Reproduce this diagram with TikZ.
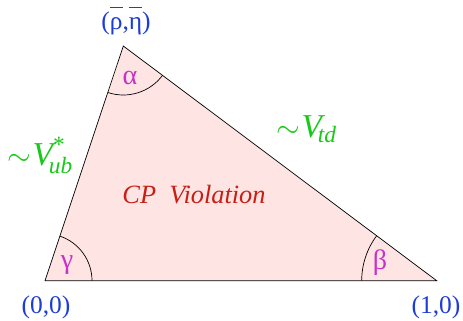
\documentclass[tikz,border=0pt]{standalone}
\usepackage{amsmath}
\usepackage{fontspec}
\setmainfont{Liberation Serif}
\usepackage{xcolor}
\usepackage{tikz}
\usetikzlibrary{angles,calc}
\definecolor{triFill}{RGB}{255,228,228}
\definecolor{ptBlue}{RGB}{30,60,215}
\definecolor{ckmGreen}{RGB}{25,200,25}
\definecolor{angMag}{RGB}{200,50,200}
\definecolor{cpRed}{RGB}{200,30,20}
\newcommand{\wbar}[1]{$\overline{\vphantom{(}\textrm{#1}}$}
\newcommand{\approxto}{{\fontsize{17}{17}\selectfont$\sim$}}
\tikzset{
  vert/.style={text=ptBlue, font=\fontsize{14.5}{16}\selectfont, inner sep=0pt},
  side/.style={text=ckmGreen, font=\fontsize{19}{22}\selectfont, inner sep=0pt, anchor=base west},
  ang/.style={text=angMag, font=\fontsize{16}{18}\selectfont, inner sep=0pt},
  arcline/.style={draw, thin, black}
}

\begin{document}
\begin{tikzpicture}[x=1cm,y=1cm]
  \useasboundingbox (0,0) rectangle (9.26,6.4);
  % corners of the unitarity triangle
  \coordinate (orig) at (0.9,0.786);
  \coordinate (unit) at (8.734,0.786);
  \coordinate (apex) at (2.466,5.48);
  \filldraw[fill=triFill, draw=black, thin] (orig) -- (unit) -- (apex) -- cycle;
  % angles
  \pic[arcline, angle radius=0.94cm] {angle=unit--orig--apex};
  \pic[arcline, angle radius=0.98cm] {angle=orig--apex--unit};
  \pic[arcline, angle radius=1.5cm] {angle=apex--unit--orig};
  \node[ang] (gam) at (1.34,1.1) {γ};
  \node[ang] (alp) at (2.6,4.84) {α};
  \node[ang] (bet) at (7.6,1.14) {β};
  % vertex labels
  \node[vert] (lorig) at (0.92,0.26) {(0,0)};
  \node[vert] (lunit) at (8.72,0.26) {(1,0)};
  \node[vert] (lapex) at (2.52,5.98) {(\wbar{ρ},\wbar{η})};
  % sides
  \node[side] (vub) at (0.14,3.1) {\approxto$\mkern1mu\textit{V}_{\mkern-3mu\textit{ub}}^{\textrm{*}}$};
  \node[side] (vtd) at (5.52,3.66) {\approxto$\mkern1mu\textit{V}_{\mkern-3mu\textit{td}}$};
  \node[text=cpRed, font=\fontsize{15}{18}\selectfont\itshape] (cpv) at (3.88,2.5) {CP\ \ Violation};
\end{tikzpicture}
\end{document}
